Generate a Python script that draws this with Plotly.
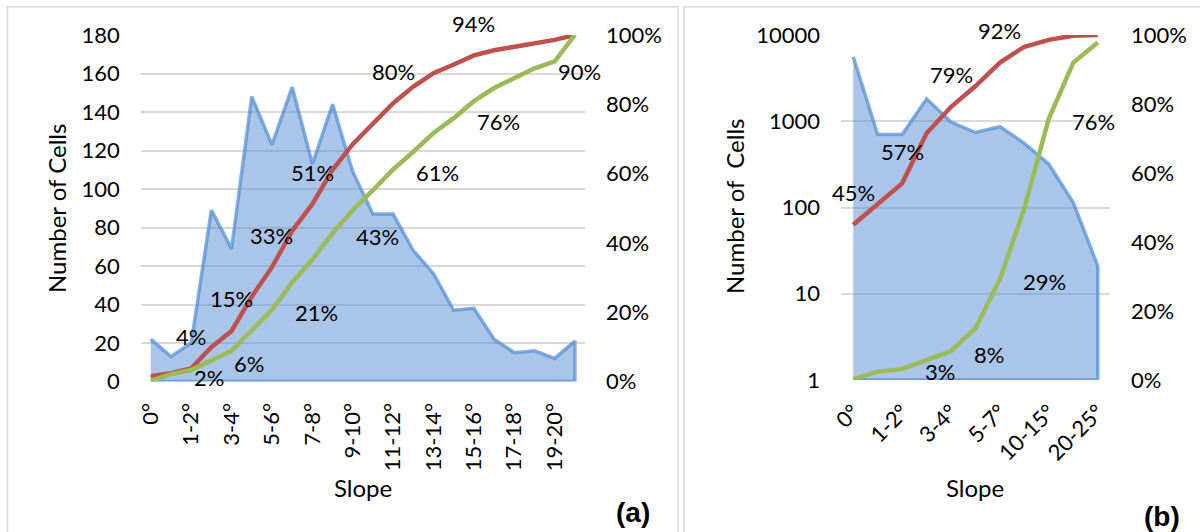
import plotly.graph_objects as go

# ---------------- panel (a): linear counts ----------------
slope_a = ["0°", "0-1°", "1-2°", "2-3°", "3-4°", "4-5°", "5-6°", "6-7°", "7-8°", "8-9°",
           "9-10°", "10-11°", "11-12°", "12-13°", "13-14°", "14-15°", "15-16°", "16-17°",
           "17-18°", "18-19°", "19-20°", "20-21°"]
cells_a = [22, 13, 20, 89, 69, 148, 123, 153, 113, 144, 109, 87, 87, 68, 56, 37, 38, 22,
           15, 16, 12, 21]
cum_red_a = [1.5, 2.4, 3.8, 9.9, 14.6, 24.5, 33.0, 43.5, 51.2, 61.1, 68.5, 74.5, 80.3,
             85.1, 89.0, 91.5, 94.1, 95.6, 96.6, 97.7, 98.6, 100.0]
cum_green_a = [0.2, 2.1, 3.3, 6.1, 8.9, 14.8, 20.7, 28.6, 35.2, 42.8, 49.5, 55.2, 61.2,
               66.3, 71.7, 76.0, 80.9, 84.7, 87.6, 90.4, 92.4, 100.0]
red_lbl_a = [2, 4, 6, 8, 12, 16]
green_lbl_a = [1, 3, 6, 9, 12, 15, 19]
ticks_a = slope_a[::2]
yticks_a = [0, 20, 40, 60, 80, 100, 120, 140, 160, 180]

# ---------------- panel (b): log counts ----------------
slope_b = ["0°", "0-1°", "1-2°", "2-3°", "3-4°", "4-5°", "5-7°", "7-10°", "10-15°",
           "15-20°", "20-25°"]
cells_b = [5600, 700, 700, 1820, 980, 740, 865, 555, 317, 114, 21]
cum_red_b = [45.0, 51.2, 57.0, 71.5, 79.2, 85.2, 92.0, 96.6, 98.6, 99.8, 100.0]
cum_green_b = [0.2, 2.4, 3.2, 5.9, 8.4, 15.0, 29.3, 49.8, 75.8, 92.0, 97.8]
red_lbl_b = [0, 2, 4, 6]
green_lbl_b = [2, 4, 6, 8]
ticks_b = slope_b[::2]
yticks_b = [1, 10, 100, 1000, 10000]
ytext_b = ["1", "10", "100", "1000", "10000"]

pct_ticks = [0, 20, 40, 60, 80, 100]
pct_text = [f"{p}%" for p in pct_ticks]

FONT = "Lato, 'Open Sans', sans-serif"
FS = 22
AREA_FILL = "rgba(84,141,212,0.5)"
AREA_LINE = "rgba(84,141,212,0.72)"
RED = "#C0504D"
GREEN = "#9BBB59"
GRID = "#D9D9D9"

W, H = 1200, 532


def px_x(p):
    return p / W


def px_y(p):
    return 1 - p / H


fig = go.Figure()


def add_panel(cats, cells, red, green, xa, ya, ya2, base):
    xs = cats + cats[::-1]
    ys = cells + [base] * len(cells)
    fig.add_trace(go.Scatter(x=xs, y=ys, xaxis=xa, yaxis=ya, mode="lines",
                             fill="toself", fillcolor=AREA_FILL,
                             line=dict(color=AREA_LINE, width=3.5),
                             cliponaxis=False, hoverinfo="skip", showlegend=False))
    fig.add_trace(go.Scatter(x=cats, y=red, xaxis=xa, yaxis=ya2, mode="lines",
                             line=dict(color=RED, width=4.5), showlegend=False))
    fig.add_trace(go.Scatter(x=cats, y=green, xaxis=xa, yaxis=ya2, mode="lines",
                             line=dict(color=GREEN, width=4.5), showlegend=False))


add_panel(slope_a, cells_a, cum_red_a, cum_green_a, "x", "y", "y2", 0)
add_panel(slope_b, cells_b, cum_red_b, cum_green_b, "x2", "y3", "y4", 1)

annotations = []


def label(cats, vals, idxs, xr, yr, kind):
    for i in idxs:
        a = dict(x=cats[i], y=vals[i], xref=xr, yref=yr, text=f"{vals[i]:.0f}%",
                 showarrow=False, font=dict(family=FONT, size=FS, color="#000"))
        if kind == "above":
            a.update(xanchor="center", yanchor="middle", yshift=32)
        else:
            a.update(xanchor="left", yanchor="middle", xshift=21, yshift=-3)
        annotations.append(a)


label(slope_a, cum_red_a, red_lbl_a, "x", "y2", "above")
label(slope_a, cum_green_a, green_lbl_a, "x", "y2", "right")
label(slope_b, cum_red_b, red_lbl_b, "x2", "y4", "above")
label(slope_b, cum_green_b, green_lbl_b, "x2", "y4", "right")


def title(text, x, y, angle=0, size=24, bold=False):
    annotations.append(dict(text=f"<b>{text}</b>" if bold else text,
                            x=px_x(x), y=px_y(y), xref="paper", yref="paper",
                            xanchor="center", yanchor="middle", textangle=angle,
                            showarrow=False,
                            font=dict(family=FONT if not bold else "Liberation Sans, Arial",
                                      size=size, color="#000")))


title("Number of Cells", 57, 209, -90)
title("Slope", 363, 487)
title("Number of\u00a0 Cells", 734, 206, -90)
title("Slope", 975, 487)
title("(a)", 633, 512, size=28, bold=True)
title("(b)", 1162, 516, size=28, bold=True)

tick_font = dict(family=FONT, size=FS, color="#000")

xa_dom = [px_x(140.7), px_x(585)]
xb_dom = [px_x(841), px_x(1110)]
ya_dom = [px_y(381.5), px_y(35)]
yb_dom = [px_y(380), px_y(35)]

common = dict(zeroline=False, showline=False, ticks="", automargin=False,
              tickfont=tick_font)

fig.update_layout(
    template="none",
    width=W, height=H, autosize=False,
    margin=dict(l=0, r=0, t=0, b=0, pad=0),
    paper_bgcolor="white", plot_bgcolor="rgba(0,0,0,0)",
    showlegend=False,
    annotations=annotations,
    xaxis=dict(domain=xa_dom, anchor="y", type="category", categoryorder="array",
               categoryarray=slope_a, range=[-0.5, len(slope_a) - 0.5],
               tickmode="array", tickvals=ticks_a, ticktext=ticks_a, tickangle=-90,
               showgrid=False, ticklabelstandoff=16, **common),
    yaxis=dict(domain=ya_dom, anchor="x", range=[0, 180], tickmode="array",
               tickvals=yticks_a, ticktext=[str(v) for v in yticks_a],
               showgrid=True, gridcolor=GRID, gridwidth=1.5,
               ticklabelstandoff=20, **common),
    yaxis2=dict(domain=ya_dom, anchor="x", overlaying="y", side="right", range=[0, 100],
                tickmode="array", tickvals=pct_ticks, ticktext=pct_text, showgrid=False,
                ticklabelstandoff=20, **common),
    xaxis2=dict(domain=xb_dom, anchor="y3", type="category", categoryorder="array",
                categoryarray=slope_b, range=[-0.5, len(slope_b) - 0.5],
                tickmode="array", tickvals=ticks_b, ticktext=ticks_b, tickangle=-45,
                showgrid=False, ticklabelstandoff=14, **common),
    yaxis3=dict(domain=yb_dom, anchor="x2", type="log", range=[0, 4], tickmode="array",
                tickvals=yticks_b, ticktext=ytext_b, showgrid=True, gridcolor=GRID,
                gridwidth=1.5, ticklabelstandoff=20, **common),
    yaxis4=dict(domain=yb_dom, anchor="x2", overlaying="y3", side="right", range=[0, 100],
                tickmode="array", tickvals=pct_ticks, ticktext=pct_text, showgrid=False,
                ticklabelstandoff=20, **common),
    shapes=[
        dict(type="rect", xref="paper", yref="paper", x0=px_x(7.5), x1=px_x(678),
             y0=-0.1, y1=px_y(6.7), line=dict(color=GRID, width=1.5), layer="below"),
        dict(type="rect", xref="paper", yref="paper", x0=px_x(684), x1=1.05,
             y0=-0.1, y1=px_y(6.7), line=dict(color=GRID, width=1.5), layer="below"),
    ],
)

fig.write_html("out.html")
